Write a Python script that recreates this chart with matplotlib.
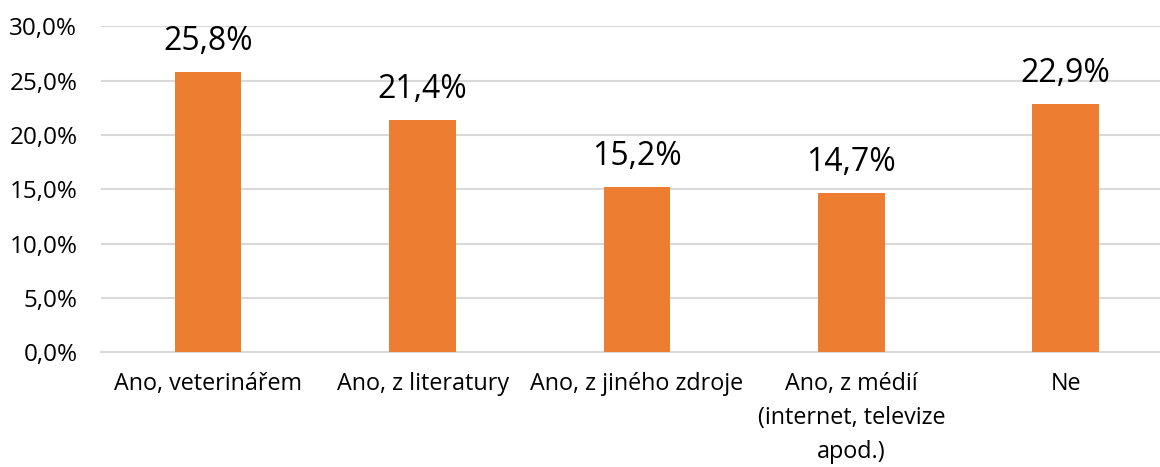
import matplotlib.pyplot as plt
import numpy as np

# answers and their shares (in %)
categories = ["Ano, veterinářem", "Ano, z literatury", "Ano, z jiného zdroje",
              "Ano, z médií\n(internet, televize\napod.)", "Ne"]
shares = [25.8, 21.4, 15.2, 14.7, 22.9]
y_ticks = [0, 5, 10, 15, 20, 25, 30]

plt.rcParams["font.family"] = ["Open Sans", "DejaVu Sans"]

fig = plt.figure(figsize=(11.6, 4.67), dpi=100)
ax = fig.add_axes([0.0871, 0.2452, 0.924, 0.6981])

x = np.arange(len(categories))
bars = ax.bar(x, shares, width=0.31, color="#ED7D31", zorder=3)

# data labels above bars, czech decimal comma
for xi, val in zip(x, shares):
    ax.annotate(f"{val:.1f}%".replace(".", ","), (xi, val), xytext=(0, 10),
                textcoords="offset points", ha="center", va="bottom", fontsize=23)

ax.set_xlim(-0.5, len(categories) - 0.5)
ax.set_ylim(0, 30)
ax.set_yticks(y_ticks)
ax.set_yticklabels([f"{t:.1f}%".replace(".", ",") for t in y_ticks], fontsize=17.5)
ax.set_xticks(x)
ax.set_xticklabels(categories, fontsize=16.8, linespacing=1.55)

ax.grid(axis="y", color="#D9D9D9", linewidth=1.5, zorder=0)
for side in ["top", "right", "left"]:
    ax.spines[side].set_visible(False)
ax.spines["bottom"].set_color("#D9D9D9")
ax.spines["bottom"].set_linewidth(1.5)
ax.tick_params(axis="y", length=0, pad=17)
ax.tick_params(axis="x", length=0, pad=14)

fig.savefig("out.png", dpi=100)
